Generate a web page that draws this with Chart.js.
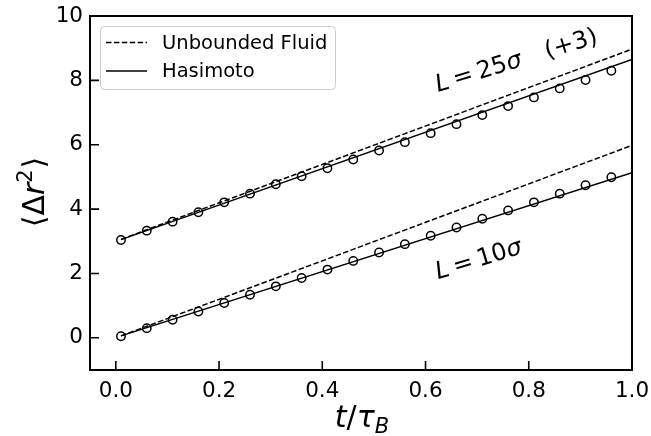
<!DOCTYPE html>
<html><head><meta charset="utf-8">
<script src="https://cdn.jsdelivr.net/npm/chart.js@4/dist/chart.umd.min.js"></script>
<style>html,body{margin:0;padding:0;background:#fff}</style>
</head><body>
<canvas id="c" width="651" height="436"></canvas>
<script>
// ---- data ----
const tSim = [0.01,0.06,0.11,0.16,0.21,0.26,0.31,0.36,0.41,0.46,0.51,0.56,0.61,0.66,0.71,0.76,0.81,0.86,0.91,0.96];
const msdL10 = [0.05,0.30,0.56,0.82,1.08,1.34,1.60,1.86,2.12,2.39,2.65,2.91,3.17,3.43,3.70,3.96,4.21,4.48,4.74,4.99];
const msdL25 = [3.04,3.33,3.61,3.90,4.21,4.48,4.77,5.02,5.27,5.54,5.82,6.08,6.36,6.64,6.92,7.20,7.47,7.75,8.01,8.30];
const tTheory = [0.01, 1.0];
const unboundedL10 = [0.06, 5.98];
const hasimotoL10 = [0.06, 5.13];
const unboundedL25 = [3.06, 8.97];
const hasimotoL25 = [3.05, 8.65];
const xTicks = [0.0,0.2,0.4,0.6,0.8,1.0];
const yTicks = [0,2,4,6,8,10];
const legendLabels = ['Unbounded Fluid','Hasimoto'];
const annL25 = {x:0.624, y:7.64};
const annL10 = {x:0.624, y:1.82};

const FONT = '"DejaVu Sans", sans-serif';
const pts = (xs, ys) => xs.map((x,i)=>({x, y: ys[i]}));

const lineDs = (label, xs, ys, dashed) => ({
  type:'line', label, data: pts(xs, ys), borderColor:'#000', borderWidth:1.5,
  borderDash: dashed ? [5.5,2.4] : [], pointRadius:0, fill:false, tension:0, order:2
});
const markDs = (label, ys) => ({
  type:'scatter', label, data: pts(tSim, ys), borderColor:'#000', backgroundColor:'rgba(0,0,0,0)',
  pointRadius:4.2, pointBorderWidth:1.5, pointHoverRadius:4.2, showLine:false, order:1
});

function drawParts(ctx, parts, x, y, angle){
  ctx.save();
  ctx.translate(x, y);
  ctx.rotate(angle);
  let cx = 0;
  for (const p of parts){
    ctx.font = (p.it ? 'italic ' : '') + p.size + 'px ' + FONT;
    cx += (p.gap || 0);
    ctx.fillText(p.t, cx, p.dy || 0);
    cx += ctx.measureText(p.t).width;
  }
  ctx.restore();
}
function partsWidth(ctx, parts){
  let w = 0;
  for (const p of parts){ ctx.font = (p.it ? 'italic ' : '') + p.size + 'px ' + FONT; w += (p.gap||0) + ctx.measureText(p.t).width; }
  return w;
}

const decor = {
  id:'decor',
  afterDraw(chart){
    const ctx = chart.ctx, a = chart.chartArea;
    const xs = chart.scales.x, ys = chart.scales.y;
    ctx.save();
    ctx.strokeStyle = '#000'; ctx.fillStyle = '#000';
    // inward ticks
    ctx.lineWidth = 1.6;
    ctx.beginPath();
    for (const v of xTicks){ const px = xs.getPixelForValue(v); ctx.moveTo(px, a.bottom); ctx.lineTo(px, a.bottom - 9); }
    for (const v of yTicks){ const py = ys.getPixelForValue(v); ctx.moveTo(a.left, py); ctx.lineTo(a.left + 9, py); }
    ctx.stroke();
    // frame
    ctx.lineWidth = 2;
    ctx.strokeRect(a.left, a.top, a.right - a.left, a.bottom - a.top);

    // annotations
    ctx.textBaseline = 'alphabetic'; ctx.textAlign = 'left';
    const ang = -17 * Math.PI / 180;
    drawParts(ctx, [{t:'L',it:true,size:24},{t:'=',size:24,gap:5},{t:'25',size:24,gap:5},{t:'σ',it:true,size:24},{t:'(+3)',size:24,gap:25}],
      xs.getPixelForValue(annL25.x), ys.getPixelForValue(annL25.y), ang);
    drawParts(ctx, [{t:'L',it:true,size:24},{t:'=',size:24,gap:5},{t:'10',size:24,gap:5},{t:'σ',it:true,size:24}],
      xs.getPixelForValue(annL10.x), ys.getPixelForValue(annL10.y), ang);

    // x title t/τ_B
    const xt = [{t:'t',it:true,size:30},{t:'/',size:30},{t:'τ',it:true,size:30},{t:'B',it:true,size:21,dy:6}];
    const xw = partsWidth(ctx, xt);
    drawParts(ctx, xt, (a.left + a.right)/2 - xw/2 + 1, 427, 0);

    // y title <Δr^2>
    const yt = [{t:'⟨',size:30},{t:'Δ',size:30},{t:'r',it:true,size:30},{t:'2',size:21,dy:-12},{t:'⟩',size:30,gap:1}];
    const yw = partsWidth(ctx, yt);
    ctx.save();
    ctx.translate(44, 192);
    ctx.rotate(-Math.PI/2);
    drawParts(ctx, yt, -yw/2, 0, 0);
    ctx.restore();

    // legend
    const lx = a.left + 10, ly = a.top + 10, lw = 235, lh = 63;
    ctx.fillStyle = 'rgba(255,255,255,0.8)';
    ctx.strokeStyle = '#cccccc'; ctx.lineWidth = 1;
    ctx.beginPath(); ctx.roundRect(lx + 0.5, ly + 0.5, lw, lh, 4); ctx.fill(); ctx.stroke();
    ctx.fillStyle = '#000'; ctx.strokeStyle = '#000';
    ctx.font = '19.5px ' + FONT; ctx.textBaseline = 'middle';
    const rows = [{ds: chart.data.datasets[0], y: ly + 16.5}, {ds: chart.data.datasets[1], y: ly + 45}];
    rows.forEach((r, i) => {
      ctx.lineWidth = r.ds.borderWidth;
      ctx.setLineDash(r.ds.borderDash);
      ctx.beginPath(); ctx.moveTo(lx + 6, r.y); ctx.lineTo(lx + 47, r.y); ctx.stroke();
      ctx.setLineDash([]);
      ctx.fillText(legendLabels[i], lx + 62, r.y + 1);
    });
    ctx.restore();
  }
};

new Chart(document.getElementById('c'), {
  data: {
    datasets: [
      lineDs(legendLabels[0], tTheory, unboundedL10, true),
      lineDs(legendLabels[1], tTheory, hasimotoL10, false),
      lineDs(legendLabels[0] + ' L25', tTheory, unboundedL25, true),
      lineDs(legendLabels[1] + ' L25', tTheory, hasimotoL25, false),
      markDs('L = 10σ', msdL10),
      markDs('L = 25σ (+3)', msdL25)
    ]
  },
  options: {
    responsive:false, animation:false, events:[],
    layout:{padding:{left:0, top:16, right:19, bottom:0}},
    plugins:{legend:{display:false}, tooltip:{enabled:false}},
    scales:{
      x:{type:'linear', min:-0.05, max:1.0,
        grid:{display:false, drawTicks:false}, border:{display:false},
        ticks:{stepSize:0.2, includeBounds:false, color:'#000', padding:9, font:{family:FONT, size:21.5},
          callback:(v)=>Number(v).toFixed(1)},
        afterFit:(s)=>{ s.height = 66; s.paddingLeft = 0; s.paddingRight = 0; }
      },
      y:{type:'linear', min:-1, max:10,
        grid:{display:false, drawTicks:false}, border:{display:false},
        ticks:{stepSize:2, includeBounds:false, color:'#000', padding:7, font:{family:FONT, size:21.5},
          callback:(v)=>String(Math.round(v))},
        afterFit:(s)=>{ s.width = 90; s.paddingTop = 0; s.paddingBottom = 0; }
      }
    }
  },
  plugins:[decor]
});
</script>
</body></html>
